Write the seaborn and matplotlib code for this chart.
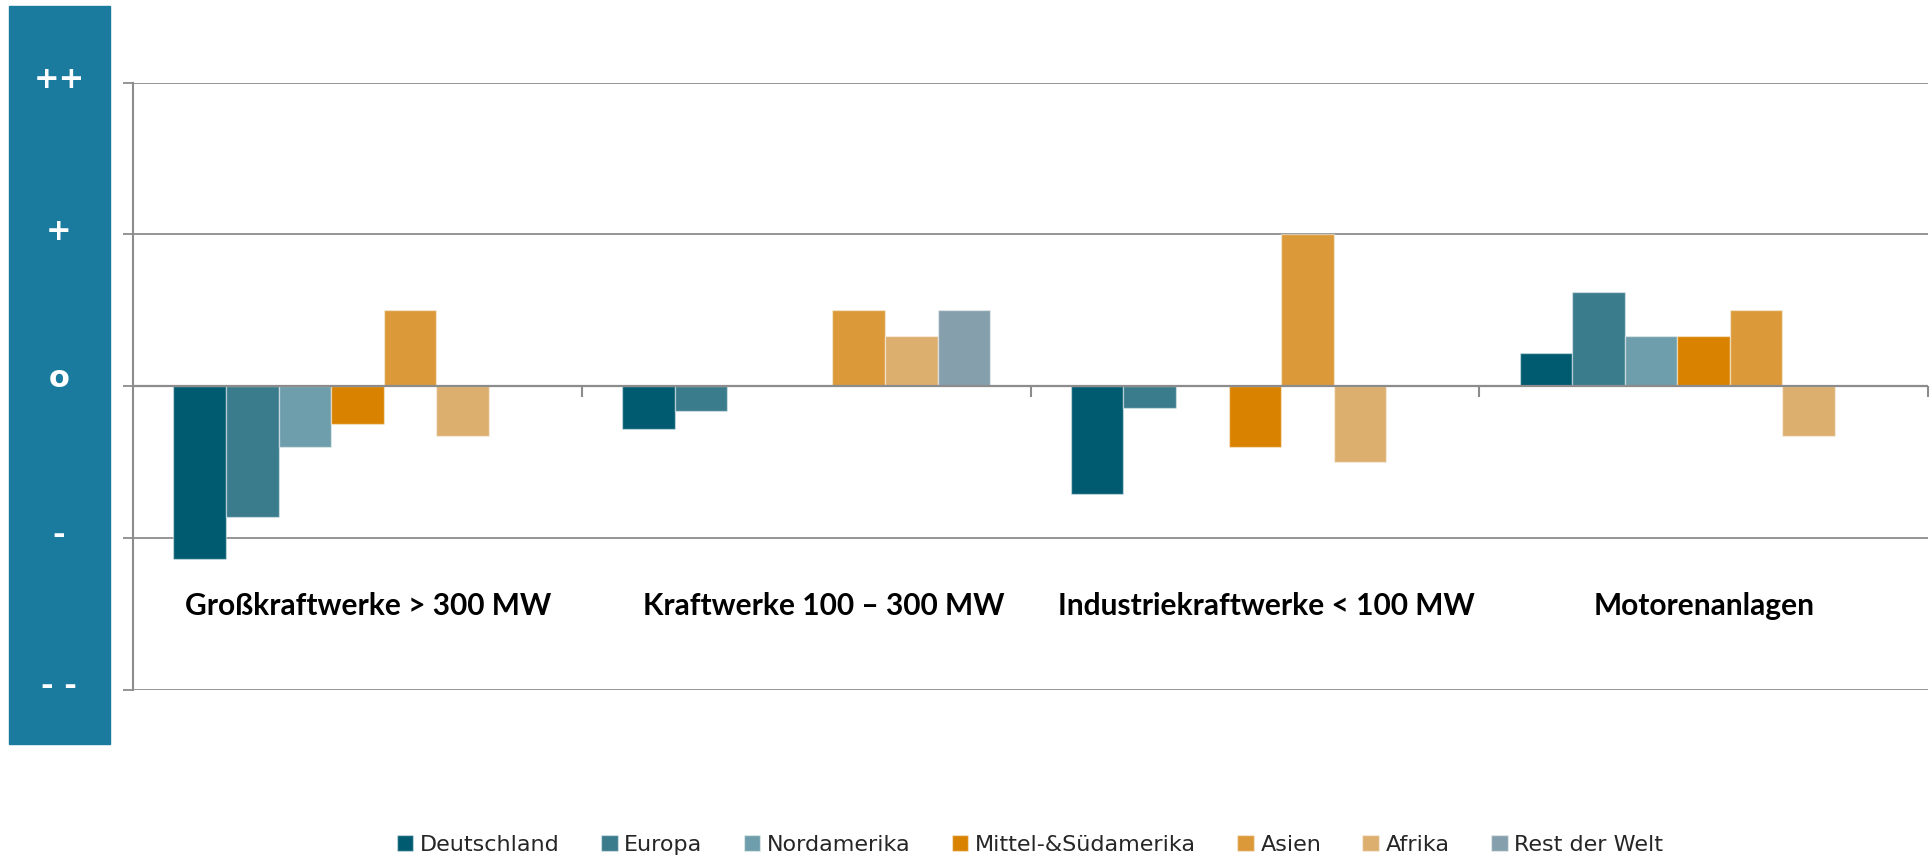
import pandas as pd
import matplotlib
matplotlib.use("Agg")
import matplotlib.pyplot as plt
import matplotlib.transforms as mtransforms
from matplotlib.patches import Rectangle
import seaborn as sns

# --- data -------------------------------------------------------------
categories = ['Großkraftwerke > 300 MW', 'Kraftwerke 100 – 300 MW',
              'Industriekraftwerke < 100 MW', 'Motorenanlagen']
regions = ['Deutschland', 'Europa', 'Nordamerika', 'Mittel-&Südamerika',
           'Asien', 'Afrika', 'Rest der Welt']
# rating per region (o = 0, + = 1, ++ = 2, - = -1, -- = -2)
deutschland = [-1.14, -0.28, -0.71, 0.22]
europa = [-0.86, -0.16, -0.14, 0.62]
nordamerika = [-0.40, 0.0, 0.0, 0.33]
mittel_sued = [-0.25, 0.0, -0.40, 0.33]
asien = [0.50, 0.50, 1.00, 0.50]
afrika = [-0.33, 0.33, -0.50, -0.33]
rest_welt = [0.0, 0.50, 0.0, 0.0]
scale_labels = ['++', '+', 'o', '-', '- -']
scale_values = [2, 1, 0, -1, -2]

colors = ['#005a70', '#3a7b8c', '#6e9eab', '#d98200',
          '#db9939', '#dcaf6e', '#869fad']

series = [deutschland, europa, nordamerika, mittel_sued, asien, afrika, rest_welt]
rows = []
for reg, vals in zip(regions, series):
    for cat, v in zip(categories, vals):
        rows.append({'Kategorie': cat, 'Region': reg, 'Wert': v})
df = pd.DataFrame(rows)

# --- plot -------------------------------------------------------------
sns.set_style("white")
plt.rcParams['font.family'] = ['DejaVu Sans']

fig = plt.figure(figsize=(19.32, 8.59), dpi=100)
ax = fig.add_axes([133 / 1932, 1 - 690 / 859, (1928 - 133) / 1932, (690 - 82.5) / 859])

sns.barplot(data=df, x='Kategorie', y='Wert', hue='Region', order=categories,
            hue_order=regions, palette=colors, width=0.82, saturation=1,
            edgecolor=(1, 1, 1, 0.45), linewidth=1.0, ax=ax, legend=True)

ax.set_xlim(-0.5, 3.5)
ax.set_ylim(-2, 2)
grid_c = '#8c8c8c'
for v in scale_values:
    ax.axhline(v, color=grid_c, lw=1.6 if v == 0 else 1.3, zorder=0.5 if v else 3)

for s in ['top', 'right', 'bottom']:
    ax.spines[s].set_visible(False)
ax.spines['left'].set_color(grid_c)
ax.spines['left'].set_linewidth(1.5)
ax.spines['bottom'].set_position(('data', 0))

ax.set_yticks(scale_values)
ax.set_yticklabels([])
ax.tick_params(axis='y', direction='out', length=7, color=grid_c, width=1.3, left=True)
ax.set_xticks([0.5, 1.5, 2.5, 3.5])
ax.set_xticklabels([])
ax.tick_params(axis='x', direction='out', length=8, color=grid_c, width=1.5, bottom=True)
ax.set_xlabel('')
ax.set_ylabel('')

# category labels inside the plot area (slight shifts as in the original)
label_shift = [0.025, 0.04, 0.025, 0.0]
for i, cat in enumerate(categories):
    ax.text(i + label_shift[i], -1.45, cat, ha='center', va='center', fontsize=21.5,
            fontweight='bold', family=['Lato', 'DejaVu Sans'], color='black')

# blue scale panel on the left
fig.patches.append(Rectangle((9 / 1932, 1 - 744 / 859), 101 / 1932, 738 / 859,
                             transform=fig.transFigure, color='#1a7b9e', zorder=-1))
trans = mtransforms.blended_transform_factory(fig.transFigure, ax.transData)
for lab, v in zip(scale_labels, scale_values):
    ax.text(59 / 1932, v + (0.02 if lab != 'o' else 0.05), lab, transform=trans,
            ha='center', va='center', color='white', fontsize=22, fontweight='bold',
            clip_on=False)

# legend at the bottom
handles, labels = ax.get_legend_handles_labels()
ax.get_legend().remove()
leg = fig.legend(handles, labels, loc='center', ncol=7, frameon=False,
                 bbox_to_anchor=(1030 / 1932, 1 - 845 / 859),
                 handlelength=0.75, handleheight=0.75, handletextpad=0.3,
                 columnspacing=1.85, prop={'size': 16})

fig.savefig('out.png', dpi=100)
